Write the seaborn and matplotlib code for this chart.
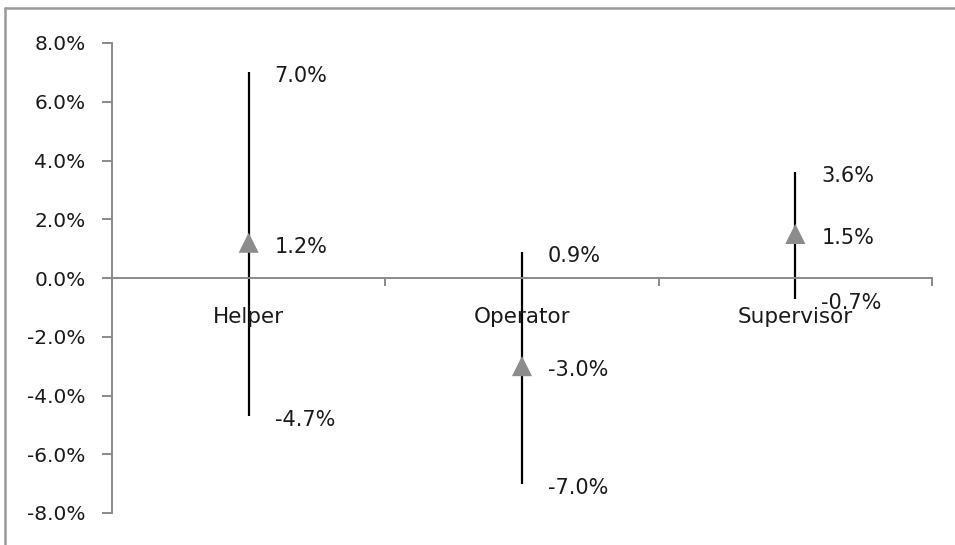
import matplotlib
matplotlib.use("Agg")
import matplotlib.pyplot as plt
import seaborn as sns
import pandas as pd
from matplotlib.lines import Line2D
from matplotlib.ticker import FuncFormatter

# ---- data ----
categories = ["Helper", "Operator", "Supervisor"]
high = [7.0, 0.9, 3.6]
mid = [1.2, -3.0, 1.5]
low = [-4.7, -7.0, -0.7]
y_ticks = [-8, -6, -4, -2, 0, 2, 4, 6, 8]

sns.set_theme(style="white")
plt.rcParams["font.family"] = ["DejaVu Sans"]

W, H = 955, 545
fig = plt.figure(figsize=(W / 100, H / 100), dpi=100)
ax = fig.add_axes([112 / W, 1 - 513 / H, (932 - 112) / W, (513 - 43) / H])

df = pd.DataFrame({"pos": list(range(len(categories))), "category": categories,
                   "high": high, "mid": mid, "low": low})

ax.vlines(df["pos"], df["low"], df["high"], color="black", linewidth=1.6, zorder=2)
sns.scatterplot(data=df, x="pos", y="mid", marker="^", s=210, color="#8c8c8c",
                edgecolor="none", linewidth=0, ax=ax, zorder=3, legend=False)

ax.set_xlim(-0.5, len(categories) - 0.5)
ax.set_ylim(min(y_ticks), max(y_ticks))
ax.set_yticks(y_ticks)
ax.yaxis.set_major_formatter(FuncFormatter(lambda v, p: f"{v:.1f}%"))
ax.set_xticks([i - 0.5 for i in range(len(categories) + 1)])
ax.set_xticklabels([])
ax.set_xlabel("")
ax.set_ylabel("")

for s in ["top", "right"]:
    ax.spines[s].set_visible(False)
ax.spines["bottom"].set_position(("data", 0))
for s in ["left", "bottom"]:
    ax.spines[s].set_color("#8a8a8a")
    ax.spines[s].set_linewidth(1.4)

ax.tick_params(axis="y", direction="out", length=7, width=1.4, color="#8a8a8a",
               pad=12, labelsize=14.5, labelcolor="#1a1a1a", left=True)
ax.tick_params(axis="x", direction="out", length=6, width=1.4, color="#8a8a8a",
               bottom=True)

# category labels below the zero line
for i, c in enumerate(categories):
    ax.annotate(c, xy=(i, 0), xytext=(0, -45), textcoords="offset pixels",
                ha="center", va="baseline", fontsize=15.5, color="#1a1a1a")

# value labels
for i in range(len(categories)):
    for v in (high[i], mid[i], low[i]):
        ax.annotate(f"{v:.1f}%", xy=(i, v), xytext=(26, -4), textcoords="offset pixels",
                    ha="left", va="center", fontsize=15, color="#1a1a1a", zorder=4)

# outer frame (top and left edges)
fig.add_artist(Line2D([5 / W, 5 / W], [0, 1 - 8 / H], transform=fig.transFigure,
                      color="#9a9a9a", linewidth=1.8))
fig.add_artist(Line2D([5 / W, 1], [1 - 8 / H, 1 - 8 / H], transform=fig.transFigure,
                      color="#9a9a9a", linewidth=1.8))

fig.savefig("out.png", dpi=100)
